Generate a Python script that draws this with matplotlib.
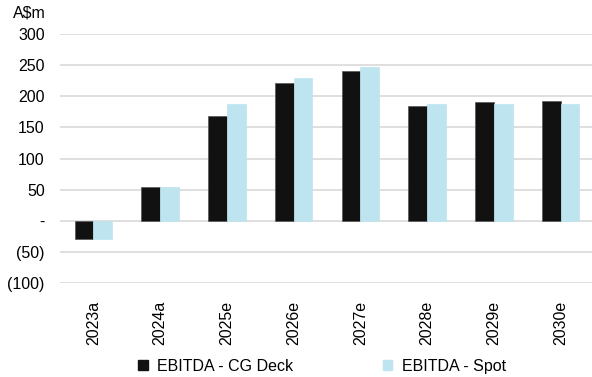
import matplotlib
matplotlib.use("Agg")
import matplotlib.pyplot as plt
import numpy as np
from matplotlib.patches import Patch

plt.rcParams['font.family'] = ['Liberation Sans', 'DejaVu Sans']

years = ["2023a", "2024a", "2025e", "2026e", "2027e", "2028e", "2029e", "2030e"]
cg_deck = [-30, 54, 168, 222, 241, 185, 190, 193]
spot = [-30, 54, 187, 230, 247, 188, 188, 188]
y_ticks = [-100, -50, 0, 50, 100, 150, 200, 250, 300]
y_tick_labels = ["(100)", "(50)", "-", "50", "100", "150", "200", "250", "300"]

dark = "#111111"
light = "#BEE4EF"
grid = "#D9D9D9"

W, H = 592, 377
fig = plt.figure(figsize=(W / 100, H / 100), dpi=100)
# axes spans pixel box x 60..594, y 34..283 (from top)
ax = fig.add_axes([60 / W, 1 - 283 / H, 534 / W, 249 / H])

x = np.arange(len(years))
bw = 0.28
ax.bar(x - bw / 2, cg_deck, width=bw, color=dark, edgecolor="#555555", linewidth=0.5, zorder=3)
ax.bar(x + bw / 2, spot, width=bw, color=light, edgecolor=light, linewidth=0.5, zorder=3)

ax.set_xlim(-0.5, len(years) - 0.5)
ax.set_ylim(-100, 300)
ax.set_yticks(y_ticks)
ax.set_yticklabels(y_tick_labels, fontsize=11.5)
ax.set_xticks(x)
ax.set_xticklabels(years, rotation=90, fontsize=11.5)
ax.tick_params(axis="both", length=0, colors="#000000")
ax.tick_params(axis="y", pad=11)
ax.tick_params(axis="x", pad=13)
ax.yaxis.grid(True, color=grid, linewidth=1.2, zorder=0)
for s in ax.spines.values():
    s.set_visible(False)

fig.text(13 / W, 1 - 13 / H, "A$m", fontsize=11.5, va="center", ha="left")

handles = [Patch(facecolor=dark, edgecolor=dark, label="EBITDA - CG Deck"),
           Patch(facecolor=light, edgecolor=light, label="EBITDA - Spot")]
fig.legend(handles=handles, loc="center", bbox_to_anchor=(322 / W, 1 - 366.5 / H),
           ncol=2, frameon=False, fontsize=11.5, handlelength=0.6, handleheight=0.6,
           handletextpad=0.6, columnspacing=5.6, borderpad=0, borderaxespad=0)

fig.savefig("out.png", dpi=100)
